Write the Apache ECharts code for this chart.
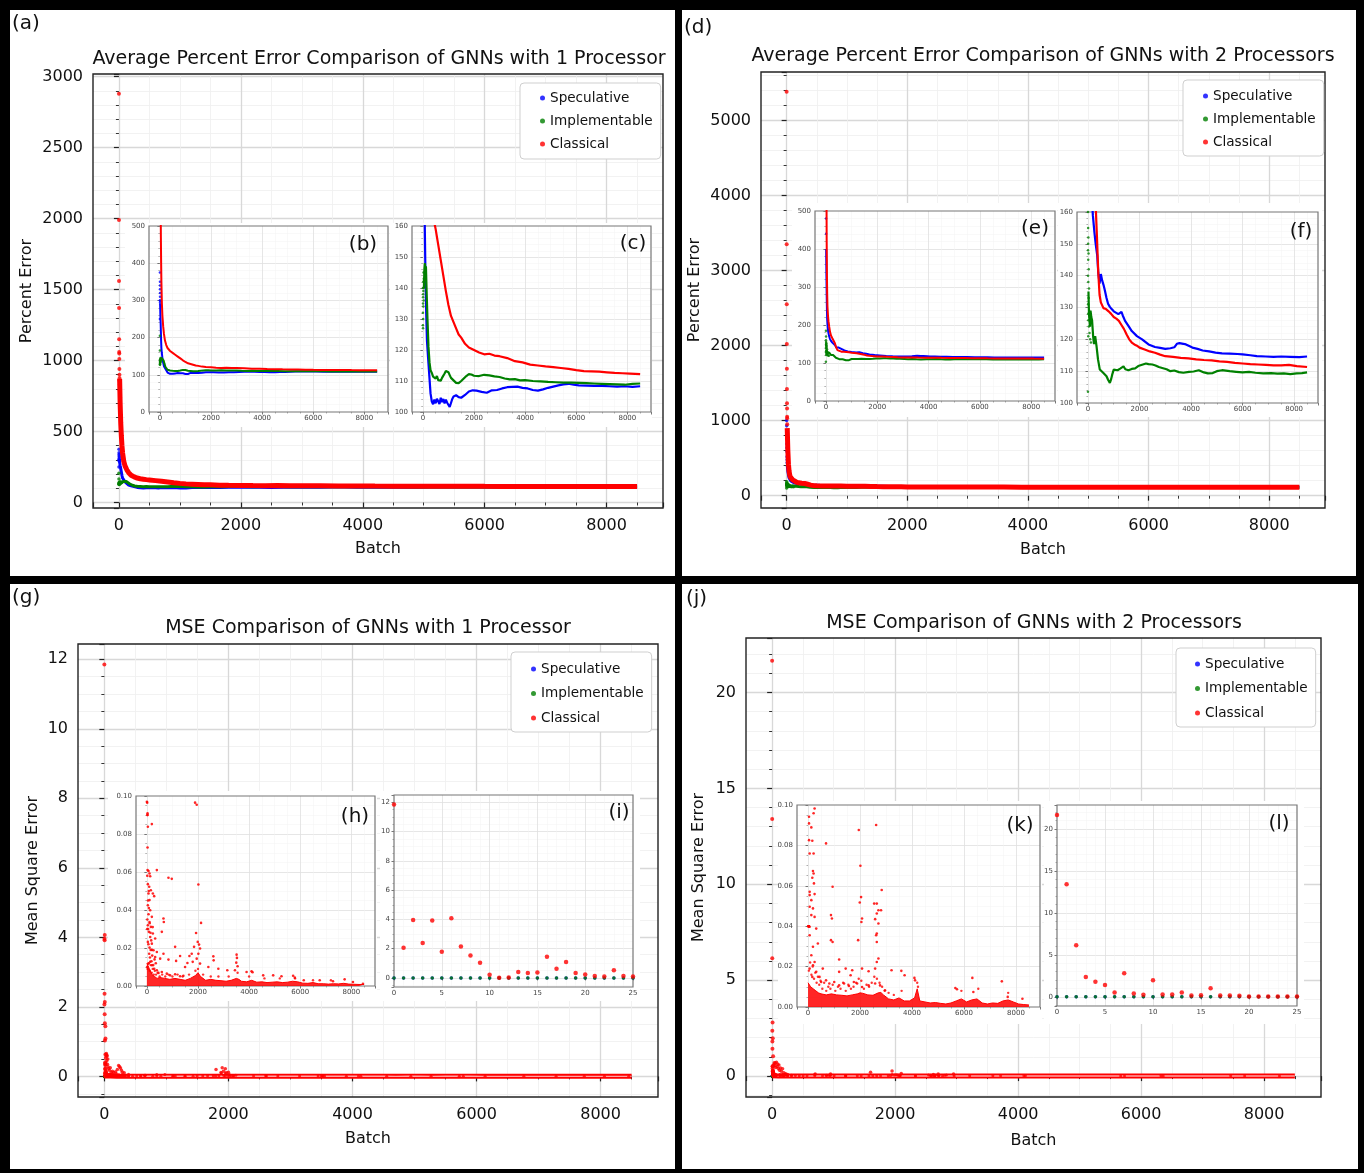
<!DOCTYPE html>
<html><head><meta charset="utf-8">
<script src="https://cdn.jsdelivr.net/npm/echarts@6/dist/echarts.min.js"></script>
<style>html,body{margin:0;padding:0;background:#000;}#c{width:1364px;height:1173px;}</style>
</head><body><div id="c"></div>
<script>
// ================= DATA =================
const LEGEND_NAMES = ['Speculative', 'Implementable', 'Classical'];
const TITLES = {
  a: 'Average Percent Error Comparison of GNNs with 1 Processor',
  d: 'Average Percent Error Comparison of GNNs with 2 Processors',
  g: 'MSE Comparison of GNNs with 1 Processor',
  j: 'MSE Comparison of GNNs with 2 Processors'
};

// ---- Average percent error, 1 processor (a,b,c)
const pe1SpecEarlyBatch = [0, 1, 2, 3, 4, 5, 6, 7, 8, 9, 10];
const pe1SpecEarly = [300, 250, 375, 350, 330, 310, 340, 320, 300, 295, 290];
const pe1SpecBatch = [10, 20, 30, 40, 50, 60, 75, 100, 130, 160, 200, 250, 300, 350, 400, 450, 500, 550, 600, 650, 700, 750, 800, 850, 900, 950, 1000, 1050, 1100, 1150, 1200, 1300, 1400, 1500, 1650, 1800, 1950, 2100, 2300, 2500, 2700, 2900, 3100, 3300, 3500, 3700, 3900, 4100, 4300, 4500, 4700, 4900, 5100, 5300, 5500, 5700, 5900, 6100, 6400, 6700, 7000, 7300, 7600, 7900, 8200, 8500];
const pe1Spec = [290, 260, 240, 215, 190, 172, 160, 145, 132, 123, 118, 112, 106, 103.4, 102.5, 104, 102.8, 104.3, 103.8, 102.6, 104.6, 103.2, 104.2, 102.8, 104, 103, 102.4, 101.6, 102.2, 104.2, 105, 105.4, 104.8, 104.6, 105.5, 106.6, 107, 106.9, 106.5, 106.2, 107, 107.1, 107.6, 108, 108.1, 108.2, 107.8, 107.6, 107.1, 106.9, 107.3, 107.8, 108.2, 108.6, 108.9, 109.1, 108.8, 108.6, 108.5, 108.4, 108.4, 108.3, 108.2, 108.3, 108.1, 108.3];
const pe1ImplEarlyBatch = [0, 1, 2, 3, 4, 5, 6, 8, 10, 12, 15, 18, 20, 25, 30, 35, 40];
const pe1ImplEarly = [205, 165, 128, 132, 140, 127, 135, 137, 130, 138, 142, 134, 139, 145, 136, 143, 140];
const pe1ImplBatch = [40, 60, 80, 100, 120, 150, 180, 220, 260, 300, 350, 400, 450, 500, 550, 600, 650, 700, 750, 800, 850, 900, 950, 1000, 1050, 1100, 1150, 1200, 1300, 1400, 1500, 1600, 1700, 1800, 1900, 2000, 2200, 2400, 2600, 2800, 3000, 3200, 3400, 3600, 3800, 4000, 4300, 4600, 4900, 5200, 5500, 5800, 6100, 6400, 6700, 7000, 7300, 7600, 7900, 8200, 8500];
const pe1Impl = [140, 146, 148, 144, 147, 138, 130, 121, 116, 113.5, 112.6, 111.4, 112, 110.8, 111.6, 110.3, 110.8, 110.1, 111, 111.5, 112.4, 113.2, 113.8, 112.8, 111.9, 111, 110.5, 110.2, 109.4, 109.3, 110, 110.8, 111.6, 112.2, 112.1, 111.7, 111.6, 112, 111.8, 111.5, 111.3, 110.8, 110.5, 110.6, 110.2, 110.3, 110, 109.9, 109.7, 109.6, 109.5, 109.5, 109.4, 109.3, 109.2, 109.1, 109, 108.9, 108.8, 109.1, 109.2];
const pe1ClasEarlyBatch = [0, 1, 2, 3, 4, 5, 6, 7, 8, 9, 10, 12, 14, 16, 18, 20];
const pe1ClasEarly = [2880, 1990, 1560, 1370, 1150, 1060, 1050, 1010, 940, 900, 875, 860, 830, 790, 740, 700];
const pe1ClasBatch = [12, 20, 30, 40, 50, 60, 80, 100, 130, 160, 200, 250, 300, 350, 400, 450, 500, 600, 700, 800, 900, 1000, 1100, 1200, 1300, 1400, 1500, 1650, 1800, 2000, 2200, 2400, 2600, 2800, 3000, 3300, 3600, 3900, 4200, 4500, 4800, 5100, 5400, 5700, 6000, 6300, 6600, 6900, 7200, 7500, 7800, 8100, 8500];
const pe1Clas = [870, 700, 560, 470, 400, 350, 290, 258, 230, 210, 192, 180, 172, 167, 164, 161, 159, 154, 149, 144, 139, 134.5, 131, 129, 127, 125, 124, 122, 120.8, 120, 119.2, 118.6, 118.8, 118.2, 118, 117.4, 116.4, 116, 115.3, 115, 114.7, 114.5, 114.2, 113.9, 113.5, 113.2, 113.1, 113, 112.8, 112.6, 112.5, 112.4, 112.2];

// ---- Average percent error, 2 processors (d,e,f)
const pe2SpecEarlyBatch = [0, 1, 2, 3, 4, 5, 6, 7, 8, 9];
const pe2SpecEarly = [1000, 930, 850, 760, 690, 640, 590, 520, 480, 440];
const pe2SpecBatch = [10, 20, 30, 40, 50, 70, 90, 120, 150, 190, 250, 300, 360, 400, 450, 500, 550, 600, 650, 720, 780, 850, 920, 1000, 1050, 1180, 1300, 1350, 1440, 1570, 1700, 1900, 2100, 2350, 2600, 2800, 3000, 3200, 3350, 3450, 3550, 3700, 3800, 3950, 4050, 4250, 4450, 4700, 4950, 5200, 5500, 5800, 6000, 6300, 6550, 6900, 7200, 7500, 7850, 8200, 8500];
const pe2Spec = [400, 330, 280, 240, 215, 195, 182, 172, 165, 159, 153.7, 150, 146.3, 141, 137.5, 140.5, 138.5, 137.2, 135.6, 133, 131.2, 130.2, 129.5, 128.8, 128.4, 127.9, 128.6, 127.5, 125.8, 124.2, 122.6, 121, 120, 118.4, 117.6, 117.3, 117, 117.2, 117.5, 118.6, 118.8, 118.6, 118.4, 117.8, 117.4, 117, 116.5, 116.2, 115.8, 115.6, 115.5, 115.4, 115.3, 115, 114.7, 114.6, 114.5, 114.6, 114.5, 114.4, 114.6];
const pe2ImplEarlyBatch = [0, 1, 2, 3, 4, 5, 6, 7, 8, 9, 10, 12, 14, 16, 18, 22, 26, 30, 36, 42, 50, 60, 70, 85, 100, 115];
const pe2ImplEarly = [103.5, 185, 160, 148, 170, 140, 155, 131, 150, 128, 145, 121, 138, 152, 126, 147, 133, 142, 124, 136, 129, 122, 127, 120, 126, 119];
const pe2ImplBatch = [20, 40, 60, 80, 100, 130, 160, 200, 235, 280, 330, 390, 460, 520, 590, 650, 720, 780, 850, 900, 940, 1000, 1050, 1150, 1250, 1380, 1450, 1570, 1700, 1830, 1950, 2100, 2250, 2350, 2500, 2620, 2750, 2880, 3050, 3200, 3350, 3530, 3700, 3920, 4100, 4300, 4500, 4650, 4840, 5000, 5200, 5500, 5750, 6000, 6250, 6500, 6800, 7100, 7350, 7600, 7850, 8100, 8300, 8500];
const pe2Impl = [135, 128, 126, 124, 129, 127, 126, 121, 118.5, 121, 118, 113.7, 110.5, 110, 109.5, 110, 108.4, 107.3, 106.3, 107.5, 108.9, 110.5, 110, 110.3, 110.8, 111.5, 110.6, 110.3, 110.7, 110.9, 111.6, 112, 112.4, 112.2, 112.1, 111.8, 111.3, 111, 110.6, 110, 110.2, 109.7, 109.5, 109.8, 109.9, 110.3, 109.6, 109.3, 109.4, 110, 110.3, 110, 109.8, 109.6, 109.8, 109.5, 109.3, 109.4, 109.2, 109.3, 109.1, 109.3, 109.4, 109.6];
const pe2ClasEarlyBatch = [0, 1, 2, 3, 4, 5, 6, 7, 8, 9, 10];
const pe2ClasEarly = [5380, 3350, 2550, 2020, 1690, 1420, 1230, 1160, 1050, 1030, 950];
const pe2ClasBatch = [10, 20, 30, 40, 50, 60, 80, 100, 130, 160, 200, 250, 300, 350, 400, 450, 500, 600, 700, 800, 900, 1000, 1100, 1200, 1300, 1400, 1500, 1600, 1700, 1800, 1900, 2000, 2200, 2400, 2600, 2800, 3000, 3300, 3600, 3900, 4200, 4500, 4800, 5100, 5400, 5700, 6000, 6300, 6600, 6900, 7200, 7500, 7800, 8100, 8500];
const pe2Clas = [900, 600, 420, 330, 280, 250, 225, 210, 195, 182, 172, 165, 162, 152, 141, 134, 131.6, 129.8, 129.5, 128.8, 128, 127, 126.5, 125.8, 124.5, 123.2, 121.5, 120, 119, 118.4, 118, 117.4, 116.8, 116.2, 115.8, 115.2, 114.7, 114.5, 114.2, 114, 113.7, 113.5, 113.4, 113.1, 112.9, 112.6, 112.4, 112.2, 112.1, 112, 111.8, 111.8, 112, 111.6, 111.3];

// ---- MSE (g..l)
const mseFirstBatch = [0, 1, 2, 3, 4, 5, 6, 7, 8, 9, 10, 11, 12, 13, 14, 15, 16, 17, 18, 19, 20, 21, 22, 23, 24, 25];
const mseTailBatch = [25, 8500];
const mse1ClasFirst = [11.85, 2.07, 3.96, 2.38, 3.92, 1.79, 4.07, 2.14, 1.53, 1.03, 0.21, 0.01, 0.03, 0.40, 0.33, 0.37, 1.44, 0.63, 1.09, 0.34, 0.23, 0.14, 0.09, 0.53, 0.13, 0.09];
const mse1ImplFirst = [0, 0, 0, 0, 0, 0, 0, 0, 0, 0, 0, 0, 0, 0, 0, 0, 0, 0, 0, 0, 0, 0, 0, 0, 0, 0];
const mse1SpecFirst = [0, 0, 0, 0, 0, 0, 0, 0, 0, 0, 0, 0, 0, 0, 0, 0, 0, 0, 0, 0, 0, 0, 0, 0, 0, 0];
const mse1ImplTail = [0, 0];
const mse1SpecTail = [0, 0];
const mse1MidBatch = [28, 32, 36, 40, 45, 50, 55, 60, 70, 80, 95, 110, 130, 150, 180, 210, 230, 245, 260, 275, 290, 320, 1800, 1880, 1900, 1920, 1950, 1970, 2000];
const mse1Mid = [0.62, 0.66, 0.58, 0.45, 0.6, 0.35, 0.5, 0.28, 0.22, 0.18, 0.25, 0.12, 0.15, 0.11, 0.13, 0.2, 0.31, 0.28, 0.24, 0.18, 0.12, 0.105, 0.2, 0.11, 0.25, 0.15, 0.22, 0.105, 0.12];
const mse1CloudBatch = [0, 13, 26, 39, 195, 26, 26, 65, 104, 130, 390, 845, 975, 39, 91, 156, 65, 234, 286, 104,
  39, 130, 65, 195, 650, 663, 104, 39, 156, 585, 78, 234, 130, 325, 39, 195, 1105, 104, 260, 390,
  650, 1300, 325, 520, 845, 1144, 130, 1586,
  1886, 1950, 2015, 2120, 1925, 1990, 2041, 1755, 1664, 1846, 2080, 2015, 1950, 2080, 1794, 1495,
  2600, 2613, 2405, 2796, 3147, 3511, 3524, 3498, 3550, 3446, 3901, 4096, 4135, 4551, 4941, 5267, 5722, 5787, 6138, 6762,
  7282, 7737, 8062, 8453,
  65, 195, 286, 390, 455, 585, 780, 910, 1105, 1300, 1430,
  20, 50, 80, 110, 140, 170, 200, 230, 60, 90, 120, 150, 180, 210, 250, 300, 350, 45, 75, 15];
const mse1Cloud = [0.097, 0.0965, 0.0909, 0.0838, 0.0852, 0.0729, 0.061, 0.0605, 0.0592, 0.0578, 0.061, 0.057, 0.0564, 0.0536, 0.0522, 0.0504, 0.0487, 0.0487, 0.0473, 0.0452,
  0.0425, 0.0399, 0.0378, 0.0364, 0.0355, 0.0337, 0.0337, 0.032, 0.0311, 0.0285, 0.0285, 0.0276, 0.0258, 0.025, 0.0232, 0.0223, 0.0206, 0.0202, 0.0188, 0.0179,
  0.017, 0.0158, 0.0153, 0.0144, 0.0139, 0.0132, 0.0127, 0.0121,
  0.0965, 0.0954, 0.0534, 0.0332, 0.0279, 0.0232, 0.0218, 0.017, 0.0158, 0.0206, 0.0197, 0.017, 0.0144, 0.0118, 0.0127, 0.01,
  0.0156, 0.0135, 0.01, 0.0091, 0.0083, 0.0165, 0.0148, 0.0123, 0.0104, 0.0083, 0.0074, 0.0077, 0.0072, 0.0056, 0.0056, 0.0051, 0.0054, 0.0044, 0.003, 0.003,
  0.0025, 0.0035, 0.0021, 0.0012,
  0.0118, 0.0109, 0.0091, 0.0083, 0.0069, 0.0074, 0.0065, 0.0056, 0.0062, 0.0051, 0.0054,
  0.035, 0.03, 0.041, 0.033, 0.028, 0.024, 0.019, 0.031, 0.022, 0.017, 0.015, 0.019, 0.013, 0.016, 0.011, 0.014, 0.012, 0.045, 0.05, 0.058];
const mse1DenseBatch = [30, 70, 110, 150, 190, 230, 270, 310, 360, 420, 500, 600, 720, 850, 1000, 1200, 1400, 1650, 1900, 2000, 2200, 2500, 2800, 3200, 3550, 4000, 4600, 5200, 5800, 6500, 7200];
const mse1Dense = [0.009, 0.012, 0.008, 0.011, 0.007, 0.009, 0.006, 0.008, 0.006, 0.007, 0.005, 0.006, 0.005, 0.006, 0.005, 0.006, 0.005, 0.006, 0.008, 0.009, 0.006, 0.005, 0.005, 0.005, 0.007, 0.005, 0.004, 0.004, 0.004, 0.003, 0.003];
const mse1FloorBatch = [0, 100, 200, 300, 400, 500, 700, 900, 1100, 1300, 1500, 1700, 1900, 2000, 2100, 2300, 2500, 2700, 2900, 3100, 3300, 3500, 3600, 3700, 3900, 4100, 4300, 4500, 4700, 4900, 5100, 5300, 5500, 5700, 5900, 6100, 6300, 6500, 6700, 6900, 7100, 7300, 7500, 7700, 7900, 8100, 8300, 8500];
const mse1Floor = [0.012, 0.009, 0.006, 0.005, 0.004, 0.0045, 0.004, 0.0035, 0.004, 0.0035, 0.003, 0.004, 0.0055, 0.007, 0.005, 0.003, 0.0035, 0.003, 0.0028, 0.0025, 0.003, 0.004, 0.0035, 0.0025, 0.0022, 0.003, 0.002, 0.0022, 0.0018, 0.002, 0.0022, 0.0018, 0.002, 0.0025, 0.0022, 0.0015, 0.0014, 0.0018, 0.0012, 0.0012, 0.001, 0.0012, 0.0011, 0.0014, 0.001, 0.0009, 0.0008, 0.0008];

const mse2ClasFirst = [21.66, 13.41, 6.15, 2.37, 1.81, 1.42, 0.51, 2.80, 0.39, 0.24, 1.97, 0.28, 0.28, 0.51, 0.16, 0.20, 1.03, 0.16, 0.16, 0.12, 0.04, 0.04, 0.04, 0.04, 0.04, 0.04];
const mse2ImplFirst = [0, 0, 0, 0, 0, 0, 0, 0, 0, 0, 0, 0, 0, 0, 0, 0, 0, 0, 0, 0, 0, 0, 0, 0, 0, 0];
const mse2SpecFirst = [0, 0, 0, 0, 0, 0, 0, 0, 0, 0, 0, 0, 0, 0, 0, 0, 0, 0, 0, 0, 0, 0, 0, 0, 0, 0];
const mse2ImplTail = [0, 0];
const mse2SpecTail = [0, 0];
const mse2MidBatch = [28, 35, 42, 50, 60, 70, 80, 90, 100, 110, 120, 135, 150, 170, 190, 220, 700, 950, 1600, 1950, 2100, 2700, 2950];
const mse2Mid = [0.6, 0.7, 0.55, 0.68, 0.45, 0.72, 0.5, 0.62, 0.4, 0.58, 0.3, 0.42, 0.25, 0.38, 0.18, 0.12, 0.11, 0.105, 0.2, 0.26, 0.13, 0.11, 0.105];
const mse2CloudBatch = [38, 38, 252, 214, 126, 38, 164, 63, 214, 189, 214, 164, 227, 63, 63, 252, 126, 63, 189, 126,
  252, 63, 315, 378, 189, 693, 945, 882, 919, 882, 945, 1196, 1952, 2015, 2040, 1990, 2078, 2053, 1927, 2620,
  2544, 2645, 2708, 2645, 2582, 2645, 2620, 2645, 2834, 2809, 2708, 2708, 2645, 2582, 3212, 3589, 3715, 4093, 4118, 5668,
  5730, 6322, 6360, 7456, 7683, 8249, 1448, 1700, 2078, 1637, 1196, 567, 2330, 63, 126, 252, 189, 315, 441, 63,
  164, 504, 693, 819, 1008, 1196, 1385, 1574, 1763, 1889, 2078, 2330, 2582, 2771, 2960];
const mse2Cloud = [0.0942, 0.0909, 0.0983, 0.0959, 0.0889, 0.0826, 0.0823, 0.076, 0.076, 0.0673, 0.0661, 0.064, 0.0612, 0.057, 0.0554, 0.0559, 0.0529, 0.0496, 0.0488, 0.0455,
  0.0446, 0.0397, 0.0388, 0.0314, 0.0298, 0.081, 0.0595, 0.0455, 0.0438, 0.0331, 0.0322, 0.0235, 0.0876, 0.0699, 0.0544, 0.0517, 0.0438, 0.0421, 0.0331, 0.0901,
  0.0512, 0.0512, 0.0479, 0.0463, 0.0435, 0.0364, 0.0355, 0.0322, 0.0579, 0.0479, 0.0413, 0.024, 0.0223, 0.019, 0.0182, 0.0179, 0.0157, 0.0144, 0.0132, 0.0094,
  0.0088, 0.0144, 0.0074, 0.0127, 0.005, 0.0041, 0.019, 0.0182, 0.019, 0.0157, 0.0174, 0.019, 0.0177, 0.0355, 0.0256, 0.0223, 0.0207, 0.0174, 0.0149, 0.019,
  0.0149, 0.0124, 0.0132, 0.0116, 0.0124, 0.0107, 0.0116, 0.0104, 0.0124, 0.0116, 0.0099, 0.0107, 0.0116, 0.0107, 0.0083];
const mse2DenseBatch = [30, 80, 130, 180, 230, 280, 330, 380, 430, 480, 550, 620, 700, 780, 860, 950, 1050, 1150, 1250, 1350, 1450, 1550, 1650, 1750, 1850, 1950, 2050, 2150, 2250, 2350, 2450, 2550, 2650, 2750, 2850, 2950, 3100, 3300, 3600, 4200, 4230, 5900, 6550, 7700];
const mse2Dense = [0.018, 0.022, 0.016, 0.02, 0.014, 0.017, 0.012, 0.015, 0.011, 0.013, 0.009, 0.012, 0.008, 0.01, 0.009, 0.011, 0.008, 0.01, 0.009, 0.012, 0.008, 0.011, 0.009, 0.01, 0.012, 0.014, 0.013, 0.009, 0.011, 0.01, 0.012, 0.015, 0.014, 0.012, 0.01, 0.008, 0.007, 0.006, 0.008, 0.012, 0.01, 0.008, 0.009, 0.007];
const mse2FloorBatch = [0, 100, 200, 300, 400, 500, 700, 900, 1100, 1300, 1500, 1700, 1900, 2000, 2100, 2300, 2500, 2700, 2800, 2900, 3100, 3300, 3500, 3700, 3900, 4100, 4200, 4300, 4500, 4700, 4900, 5100, 5300, 5500, 5700, 5900, 6100, 6300, 6500, 6700, 6900, 7100, 7300, 7500, 7700, 7900, 8100, 8300, 8500];
const mse2Floor = [0.012, 0.01, 0.009, 0.008, 0.007, 0.0065, 0.006, 0.0065, 0.006, 0.0058, 0.0055, 0.006, 0.0065, 0.007, 0.0068, 0.006, 0.0058, 0.007, 0.0072, 0.006, 0.004, 0.0035, 0.0045, 0.003, 0.003, 0.0045, 0.009, 0.003, 0.0025, 0.002, 0.0022, 0.0018, 0.0015, 0.002, 0.003, 0.004, 0.0025, 0.0035, 0.004, 0.002, 0.0015, 0.002, 0.0018, 0.003, 0.0035, 0.0025, 0.0015, 0.0012, 0.001];

// ================= LAYOUT / STYLE =================
const FONT = 'DejaVu Sans';
const C_SPEC = '#0000ff', C_IMPL = '#008000', C_CLAS = '#ff0000';
function zip(b, v) { return b.map((x, i) => [x, v[i]]); }

// grid rectangles [left, top, width, height]; index order: a b c d e f g h i j k l
const RECTS = [
  [93, 74, 570, 434], [149, 226, 239, 186], [412, 226, 239, 186],
  [761, 72, 564, 436], [815, 211, 240, 190], [1077, 212, 241, 191],
  [78, 644, 580, 453], [136, 796, 239, 190], [394, 795, 239, 192],
  [746, 638, 575, 459], [797, 805, 243, 202], [1057, 805, 240, 201]
];
const INSET = [false, true, true, false, true, true, false, true, true, false, true, true];

const AX = {
  batchX: {min: -425, max: 8925, step: 2000, minor: 4},
  aY: {min: -39, max: 3019, step: 500, minor: 5},
  dY: {min: -164, max: 5644, step: 1000, minor: 5},
  gY: {min: -0.593, max: 12.44, step: 2, minor: 4},
  jY: {min: -1.09, max: 22.84, step: 5, minor: 5},
  wideY: {min: 0, max: 500, step: 100, minor: 5},
  zoomY: {min: 100, max: 160, step: 10, minor: 5},
  cloudY: {min: 0, max: 0.1, step: 0.02, minor: 4, dec: 2},
  firstX: {min: 0, max: 25, step: 5, minor: 5},
  iY: {min: -0.62, max: 12.5, step: 2, minor: 4},
  lY: {min: -1.09, max: 22.84, step: 5, minor: 5}
};
const isMult = (v, s) => Math.abs(v / s - Math.round(v / s)) < 1e-6;

function mkAxis(gi, isX, s, name, nameGap) {
  const inset = INSET[gi];
  const minOk = isMult(s.min, s.step), maxOk = isMult(s.max, s.step);
  const a = {
    type: 'value', gridIndex: gi, min: s.min, max: s.max,
    splitNumber: Math.max(1, Math.round((s.max - s.min) / s.step)),
    axisLine: {show: false},
    axisTick: {show: true, inside: false, length: inset ? 2.5 : 5, lineStyle: {color: inset ? '#555' : '#222', width: inset ? 0.8 : 1.2}},
    minorTick: {show: true, splitNumber: s.minor, length: inset ? 1.5 : 3, lineStyle: {color: inset ? '#777' : '#333', width: inset ? 0.6 : 1}},
    splitLine: {show: true, showMinLine: false, showMaxLine: false, lineStyle: {color: inset ? '#e0e0e0' : '#d8d8d8', width: inset ? 0.8 : 1.3}},
    minorSplitLine: {show: true, lineStyle: {color: inset ? '#f3f3f3' : '#efefef', width: inset ? 0.5 : 0.8}},
    axisLabel: {
      show: true, fontFamily: FONT, fontSize: inset ? 7 : 16, color: inset ? '#444' : '#111',
      margin: inset ? (isX ? 3 : 4) : 10, showMinLabel: minOk, showMaxLabel: maxOk,
      formatter: (v) => s.dec ? Number(v).toFixed(s.dec) : String(Math.round(v * 1000) / 1000)
    },
    z: inset ? 10 : 0, silent: true
  };
  if (minOk) a.interval = s.step; else { a.minInterval = s.step; a.maxInterval = s.step; }
  if (name) {
    a.name = name; a.nameLocation = 'middle'; a.nameGap = nameGap;
    a.nameTextStyle = {fontFamily: FONT, fontSize: 16, color: '#111'};
  }
  return a;
}

const grids = RECTS.map((r, i) => ({
  left: r[0], top: r[1], width: r[2], height: r[3], show: true,
  backgroundColor: 'rgba(0,0,0,0)', borderColor: INSET[i] ? '#777' : '#222', borderWidth: INSET[i] ? 1.2 : 1.4,
  z: INSET[i] ? 11 : 1, containLabel: false, outerBoundsMode: 'none'
}));

const xAxes = [
  mkAxis(0, true, AX.batchX, 'Batch', 33), mkAxis(1, true, AX.batchX), mkAxis(2, true, AX.batchX),
  mkAxis(3, true, AX.batchX, 'Batch', 34), mkAxis(4, true, AX.batchX), mkAxis(5, true, AX.batchX),
  mkAxis(6, true, AX.batchX, 'Batch', 34), mkAxis(7, true, AX.batchX), mkAxis(8, true, AX.firstX),
  mkAxis(9, true, AX.batchX, 'Batch', 36), mkAxis(10, true, AX.batchX), mkAxis(11, true, AX.firstX)
];
const yAxes = [
  mkAxis(0, false, AX.aY, 'Percent Error', 58), mkAxis(1, false, AX.wideY), mkAxis(2, false, AX.zoomY),
  mkAxis(3, false, AX.dY, 'Percent Error', 58), mkAxis(4, false, AX.wideY), mkAxis(5, false, AX.zoomY),
  mkAxis(6, false, AX.gY, 'Mean Square Error', 37), mkAxis(7, false, AX.cloudY), mkAxis(8, false, AX.iY),
  mkAxis(9, false, AX.jY, 'Mean Square Error', 39), mkAxis(10, false, AX.cloudY), mkAxis(11, false, AX.lY)
];

const series = [];
function S(o) { series.push(Object.assign({animation: false, silent: true}, o)); }
function scat(gi, name, color, b, v, size, z, extra) {
  S(Object.assign({type: 'scatter', name, xAxisIndex: gi, yAxisIndex: gi, data: zip(b, v), symbol: 'circle',
    symbolSize: size, itemStyle: {color}, z, clip: true}, extra || {}));
}
function ln(gi, name, color, b, v, width, z, extra) {
  S(Object.assign({type: 'line', name, xAxisIndex: gi, yAxisIndex: gi, data: zip(b, v), showSymbol: false,
    symbol: 'none', lineStyle: {color, width}, itemStyle: {color}, z, clip: true}, extra || {}));
}

function pePanel(gMain, gWide, gZoom, sets) {
  sets.forEach((s, k) => {
    const red = s.name === 'Classical';
    scat(gMain, s.name, s.color, s.eb, s.ev, red ? 4 : 3.5, 2 + k);
    ln(gMain, s.name, s.color, s.tb, s.tv, red ? 5 : 3, 2 + k);
    scat(gWide, s.name, s.color, s.eb, s.ev, 2.5, 12 + k);
    ln(gWide, s.name, s.color, s.tb, s.tv, 2, 12 + k);
    scat(gZoom, s.name, s.color, s.eb, s.ev, 2.5, 12 + k);
    ln(gZoom, s.name, s.color, s.tb, s.tv, 2.2, 12 + k);
  });
}
pePanel(0, 1, 2, [
  {name: 'Speculative', color: C_SPEC, eb: pe1SpecEarlyBatch, ev: pe1SpecEarly, tb: pe1SpecBatch, tv: pe1Spec},
  {name: 'Implementable', color: C_IMPL, eb: pe1ImplEarlyBatch, ev: pe1ImplEarly, tb: pe1ImplBatch, tv: pe1Impl},
  {name: 'Classical', color: C_CLAS, eb: pe1ClasEarlyBatch, ev: pe1ClasEarly, tb: pe1ClasBatch, tv: pe1Clas}
]);
pePanel(3, 4, 5, [
  {name: 'Speculative', color: C_SPEC, eb: pe2SpecEarlyBatch, ev: pe2SpecEarly, tb: pe2SpecBatch, tv: pe2Spec},
  {name: 'Implementable', color: C_IMPL, eb: pe2ImplEarlyBatch, ev: pe2ImplEarly, tb: pe2ImplBatch, tv: pe2Impl},
  {name: 'Classical', color: C_CLAS, eb: pe2ClasEarlyBatch, ev: pe2ClasEarly, tb: pe2ClasBatch, tv: pe2Clas}
]);

function msePanel(gMain, gCloud, gFirst, d) {
  [['Speculative', C_SPEC, d.specFirst, d.specTail, 0], ['Implementable', C_IMPL, d.implFirst, d.implTail, 1]].forEach(([name, color, first, tail, k]) => {
    scat(gMain, name, color, mseFirstBatch, first, 3, 2 + k);
    ln(gMain, name, color, mseTailBatch, tail, 2, 2 + k);
    scat(gFirst, name, color, mseFirstBatch, first, 3.5, 12 + k);
  });
  ln(gMain, 'Classical', C_CLAS, d.floorB, d.floor, 5, 4);
  ln(gMain, 'bandCore', '#ffa3a3', d.floorB, d.floor, 1.4, 4);
  scat(gMain, 'Classical', C_CLAS, d.cloudB, d.cloud, 3, 5);
  scat(gMain, 'Classical', C_CLAS, d.midB, d.mid, 3.5, 5);
  scat(gMain, 'Classical', C_CLAS, mseFirstBatch, d.first, 4, 5);
  ln(gCloud, 'Classical', C_CLAS, d.floorB, d.floor, 1, 14, {areaStyle: {color: C_CLAS, opacity: 0.85}});
  scat(gCloud, 'Classical', C_CLAS, d.denseB, d.dense, 2.4, 15, {itemStyle: {color: C_CLAS, opacity: 0.8}});
  scat(gCloud, 'Classical', C_CLAS, d.cloudB, d.cloud, 2.6, 15, {itemStyle: {color: C_CLAS, opacity: 0.85}});
  scat(gCloud, 'Classical', C_CLAS, d.midB, d.mid, 2.6, 15);
  scat(gCloud, 'Classical', C_CLAS, mseFirstBatch, d.first, 2.6, 15);
  scat(gFirst, 'Classical', C_CLAS, mseFirstBatch, d.first, 4.5, 15);
}
msePanel(6, 7, 8, {specFirst: mse1SpecFirst, specTail: mse1SpecTail, implFirst: mse1ImplFirst, implTail: mse1ImplTail,
  first: mse1ClasFirst, midB: mse1MidBatch, mid: mse1Mid, cloudB: mse1CloudBatch, cloud: mse1Cloud,
  denseB: mse1DenseBatch, dense: mse1Dense, floorB: mse1FloorBatch, floor: mse1Floor});
msePanel(9, 10, 11, {specFirst: mse2SpecFirst, specTail: mse2SpecTail, implFirst: mse2ImplFirst, implTail: mse2ImplTail,
  first: mse2ClasFirst, midB: mse2MidBatch, mid: mse2Mid, cloudB: mse2CloudBatch, cloud: mse2Cloud,
  denseB: mse2DenseBatch, dense: mse2Dense, floorB: mse2FloorBatch, floor: mse2Floor});

const legendBase = {orient: 'vertical', icon: 'circle', itemWidth: 5, itemHeight: 5, backgroundColor: '#fff',
  borderColor: '#cfcfcf', borderWidth: 1, borderRadius: 4, selectedMode: false, z: 6, data: LEGEND_NAMES,
  textStyle: {fontFamily: FONT, fontSize: 13.6, color: '#111'}};
const legends = [
  Object.assign({}, legendBase, {left: 520, top: 83, padding: [8, 8, 8, 20], itemGap: 9}),
  Object.assign({}, legendBase, {left: 1183, top: 80, padding: [9, 8, 7, 20], itemGap: 9}),
  Object.assign({}, legendBase, {left: 511, top: 652, padding: [10, 8, 7, 20], itemGap: 10.5}),
  Object.assign({}, legendBase, {left: 1176, top: 648, padding: [9, 8, 7, 19], itemGap: 10.5})
];

function txt(x, y, text, size, z) {
  return {type: 'text', x, y, z: z, silent: true,
    style: {text, fill: '#111', font: size + 'px "DejaVu Sans"', align: 'center', verticalAlign: 'middle', textAlign: 'center', textVerticalAlign: 'middle'}};
}
function txtL(x, y, text, size) {
  return {type: 'text', x, y, z: 20, silent: true,
    style: {text, fill: '#111', font: size + 'px "DejaVu Sans"', align: 'left', verticalAlign: 'middle', textAlign: 'left', textVerticalAlign: 'middle'}};
}
function box(x, y, w, h, fill, z) { return {type: 'rect', shape: {x, y, width: w, height: h}, style: {fill}, z, silent: true}; }

const graphics = [
  box(0, 0, 1364, 1173, '#000', -20),
  box(10, 10, 665, 566, '#fff', -19), box(682, 10, 674, 566, '#fff', -19),
  box(10, 584, 665, 585, '#fff', -19), box(682, 584, 676, 585, '#fff', -19),
  // inset backgrounds
  box(125, 223, 264, 204, '#fff', 9), box(390, 223, 262, 204, '#fff', 9),
  box(792, 203, 265, 214, '#fff', 9), box(1058, 203, 264, 214, '#fff', 9),
  box(108, 791, 269, 210, '#fff', 9), box(380, 791, 260, 210, '#fff', 9),
  box(778, 801, 264, 223, '#fff', 9), box(1044, 801, 260, 223, '#fff', 9),
  // titles
  txt(379, 59, TITLES.a, 19, 20), txt(1043, 56, TITLES.d, 19, 20),
  txt(368, 628, TITLES.g, 19, 20), txt(1034, 623, TITLES.j, 19, 20),
  // panel labels
  txtL(12, 24, '(a)', 20), txtL(684, 28, '(d)', 20), txtL(12, 598, '(g)', 20), txtL(686, 599, '(j)', 20),
  // inset labels
  txt(363, 245, '(b)', 20, 20), txt(633, 244, '(c)', 20, 20), txt(1035, 229, '(e)', 20, 20), txt(1301, 232, '(f)', 20, 20),
  txt(355, 817, '(h)', 20, 20), txt(619, 813, '(i)', 20, 20), txt(1020, 826, '(k)', 20, 20), txt(1279, 824, '(l)', 20, 20)
];

const chart = echarts.init(document.getElementById('c'), null, {renderer: 'canvas', width: 1364, height: 1173});
chart.setOption({
  animation: false,
  backgroundColor: '#000',
  grid: grids, xAxis: xAxes, yAxis: yAxes, series, legend: legends,
  graphic: {elements: graphics}
});
</script></body></html>
